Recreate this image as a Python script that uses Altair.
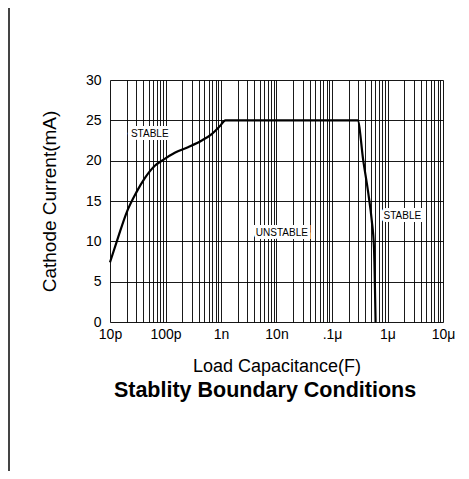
import altair as alt
import pandas as pd

# Boundary curve (load capacitance in farads, cathode current in mA)
cap_f = [10e-12, 14e-12, 20e-12, 30e-12, 43e-12, 65e-12, 91e-12, 150e-12, 260e-12,
         450e-12, 680e-12, 9.6e-10, 1.2e-9, 2.9e-7, 3.66e-7, 4.5e-7, 5.2e-7, 5.7e-7, 6.1e-7]
current_ma = [7.4, 10.5, 13.6, 16.1, 17.9, 19.4, 20.1, 21.0, 21.7,
              22.5, 23.3, 24.3, 25.0, 25.0, 20.0, 16.0, 12.6, 9.3, 0.0]

# Region annotations
note_text = ["STABLE", "UNSTABLE", "STABLE"]
note_x = [5.2e-11, 1.25e-8, 1.85e-6]
note_y = [23.3, 11.0, 13.2]

# Axis ticks
decade_vals = [1e-11, 1e-10, 1e-9, 1e-8, 1e-7, 1e-6, 1e-5]
decade_labels = ["10p", "100p", "1n", "10n", ".1\u03bc", "1\u03bc", "10\u03bc"]
y_ticks = [0, 5, 10, 15, 20, 25, 30]

chart_title = "Stablity Boundary Conditions"

minor_vals = []
for e in range(-11, -5):
    for m in range(1, 10):
        minor_vals.append(float(f"{m}e{e}"))
minor_vals.append(1e-5)

label_expr = ""
for v, l in zip(decade_vals, decade_labels):
    label_expr += f"datum.value == {v!r} ? '{l}' : "
label_expr += "''"

curve = pd.DataFrame({"x": cap_f, "y": current_ma})
notes = pd.DataFrame({"x": note_x, "y": note_y, "t": note_text})
title_df = pd.DataFrame({"t": [chart_title]})

FONT = "Liberation Sans"

xscale = alt.Scale(type="log", domain=[1e-11, 1e-5])
yscale = alt.Scale(domain=[0, 30])

base_axis_x = alt.Axis(values=minor_vals, labelExpr=label_expr, grid=True,
                       gridColor="black", gridOpacity=1, gridWidth=0.9,
                       ticks=False, domain=False, labelFont=FONT, labelFontSize=14,
                       labelColor="black", labelPadding=5, labelOverlap=False,
                       labelFlush=False,
                       title="Load Capacitance(F)", titleFont=FONT, titleFontSize=18,
                       titleFontWeight="normal", titleColor="black", titlePadding=16)
base_axis_y = alt.Axis(values=y_ticks, grid=True, gridColor="black", gridOpacity=1,
                       gridWidth=0.9, ticks=False, domain=False, labelFont=FONT,
                       labelFontSize=14, labelColor="black", labelPadding=9,
                       title="Cathode Current(mA)", titleFont=FONT, titleFontSize=19,
                       titleFontWeight="normal", titleColor="black", titlePadding=26)

line = alt.Chart(curve).mark_line(color="black", strokeWidth=2.2, interpolate="monotone").encode(
    x=alt.X("x:Q", scale=xscale, axis=base_axis_x),
    y=alt.Y("y:Q", scale=yscale, axis=base_axis_y),
)

halo = alt.Chart(notes).mark_text(font=FONT, fontSize=10, color="white", stroke="white",
                                  strokeWidth=6, strokeJoin="miter").encode(
    x=alt.X("x:Q", scale=xscale), y=alt.Y("y:Q", scale=yscale), text="t:N")
txt = alt.Chart(notes).mark_text(font=FONT, fontSize=10, color="black").encode(
    x=alt.X("x:Q", scale=xscale), y=alt.Y("y:Q", scale=yscale), text="t:N")

title_mark = alt.Chart(title_df).mark_text(font=FONT, fontSize=21.5, fontWeight="bold",
                                           color="black", baseline="middle", align="center").encode(
    x=alt.value(155), y=alt.value(311), text="t:N")

frame = alt.Chart(curve).mark_rule(color="#444", strokeWidth=1.5).encode(
    x=alt.value(-101), y=alt.value(-72), y2=alt.value(400))

chart = alt.layer(halo, txt, line, title_mark, frame).properties(
    width=333, height=242,
    padding={"left": 102, "top": 72, "right": 18, "bottom": 149},
    autosize=alt.AutoSizeParams(type="none"),
).configure_view(stroke="black", strokeWidth=1.2).configure(background="white")

chart.save("out.html", embed_options={"renderer": "svg", "actions": False})
